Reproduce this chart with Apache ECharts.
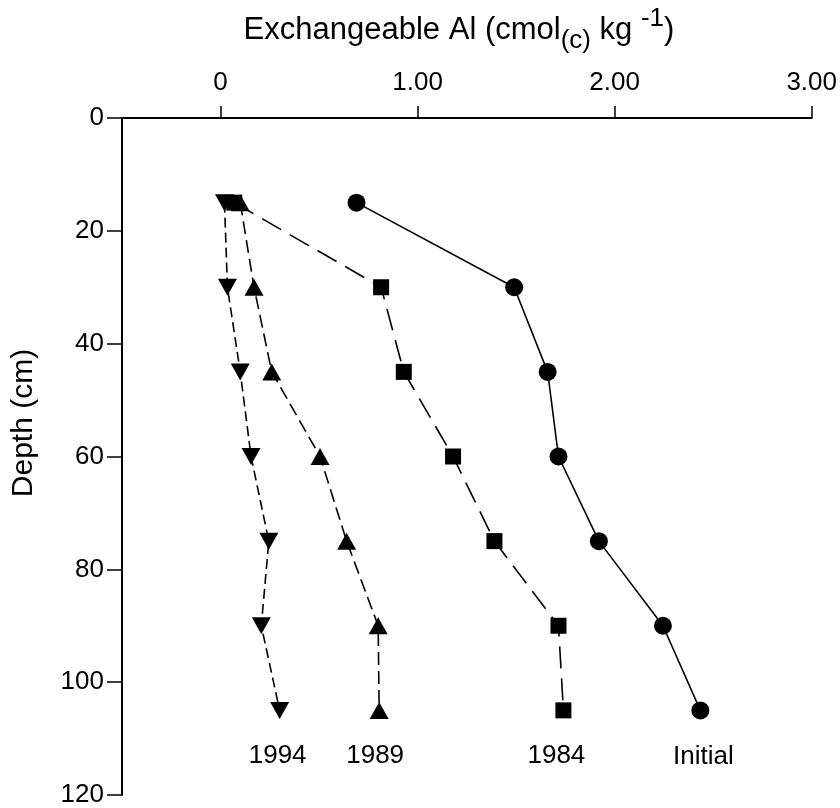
<!DOCTYPE html>
<html>
<head>
<meta charset="utf-8">
<script src="https://cdn.jsdelivr.net/npm/echarts@6/dist/echarts.min.js"></script>
<style>
  html, body { margin: 0; padding: 0; background: #fff; }
  #container { width: 840px; height: 808px; }
</style>
</head>
<body>
<div id="container"></div>
<script>
// Depth of each sample (cm)
const depths = [15, 30, 45, 60, 75, 90, 105];

// Exchangeable Al, cmol(c)/kg
const initial = [0.69, 1.49, 1.66, 1.715, 1.92, 2.245, 2.435];
const y1984 = [0.07, 0.815, 0.93, 1.18, 1.39, 1.715, 1.74];
const y1989 = [0.10, 0.17, 0.26, 0.505, 0.64, 0.80, 0.805];
const y1994 = [0.02, 0.035, 0.10, 0.155, 0.245, 0.207, 0.30];

const xTicks = [0, 1, 2, 3];

const container = document.getElementById('container');
const chart = echarts.init(container);

const font = 'Liberation Sans, Arial, sans-serif';

function makeSeries(name, values, symbol, size, rotate, dash, labelShift) {
  const data = values.map((v, i) => {
    const item = { value: [v, depths[i]] };
    if (i === values.length - 1) {
      item.label = {
        show: true,
        formatter: name,
        position: 'bottom',
        distance: 24,
        offset: [labelShift, 0],
        color: '#000',
        fontSize: 26,
        fontFamily: font
      };
    }
    return item;
  });
  return {
    name: name,
    type: 'line',
    data: data,
    symbol: symbol,
    symbolSize: size,
    symbolRotate: rotate,
    itemStyle: { color: '#000' },
    lineStyle: { color: '#000', width: 1.6, type: dash },
    z: 3
  };
}

const option = {
  animation: false,
  backgroundColor: '#fff',
  grid: { left: 122, right: 20, top: 118, bottom: 12 },
  xAxis: {
    type: 'value',
    position: 'top',
    min: -0.5,
    max: 3,
    axisLine: { show: true, onZero: false, lineStyle: { color: '#000', width: 2 } },
    axisTick: { show: true, customValues: xTicks, length: 12, lineStyle: { color: '#000', width: 1.5 } },
    axisLabel: {
      customValues: xTicks,
      formatter: v => (v === 0 ? '0' : v.toFixed(2)),
      color: '#000',
      fontSize: 26,
      fontFamily: font,
      margin: 22
    },
    splitLine: { show: false }
  },
  yAxis: {
    type: 'value',
    inverse: true,
    min: 0,
    max: 120,
    interval: 20,
    axisLine: { show: true, onZero: false, lineStyle: { color: '#000', width: 2 } },
    axisTick: { show: true, length: 15, lineStyle: { color: '#000', width: 1.5 } },
    axisLabel: { color: '#000', fontSize: 26, fontFamily: font, margin: 18 },
    splitLine: { show: false }
  },
  graphic: [{
    type: 'text',
    x: 459,
    y: 30,
    style: {
      text: 'Exchangeable Al (cmol{sub|(c)} kg {sup|-1})',
      align: 'center',
      verticalAlign: 'middle',
      fill: '#000',
      fontSize: 31,
      fontFamily: font,
      lineHeight: 48,
      rich: {
        sub: { fontSize: 26, fontFamily: font, fill: '#000', verticalAlign: 'bottom', lineHeight: 26 },
        sup: { fontSize: 26, fontFamily: font, fill: '#000', verticalAlign: 'top', lineHeight: 26 }
      }
    }
  }, {
    type: 'text',
    x: 24,
    y: 423,
    rotation: Math.PI / 2,
    style: {
      text: 'Depth (cm)',
      align: 'center',
      verticalAlign: 'middle',
      fill: '#000',
      fontSize: 30,
      fontFamily: font
    }
  }],
  series: [
    makeSeries('Initial', initial, 'circle', 18, 0, 'solid', 3),
    makeSeries('1984', y1984, 'rect', 16, 0, [22, 10], -7),
    makeSeries('1989', y1989, 'triangle', [19, 17], 0, [13, 6], -4),
    makeSeries('1994', y1994, 'triangle', [19, 17], 180, [10, 5], -2)
  ]
};

chart.setOption(option);
</script>
</body>
</html>
